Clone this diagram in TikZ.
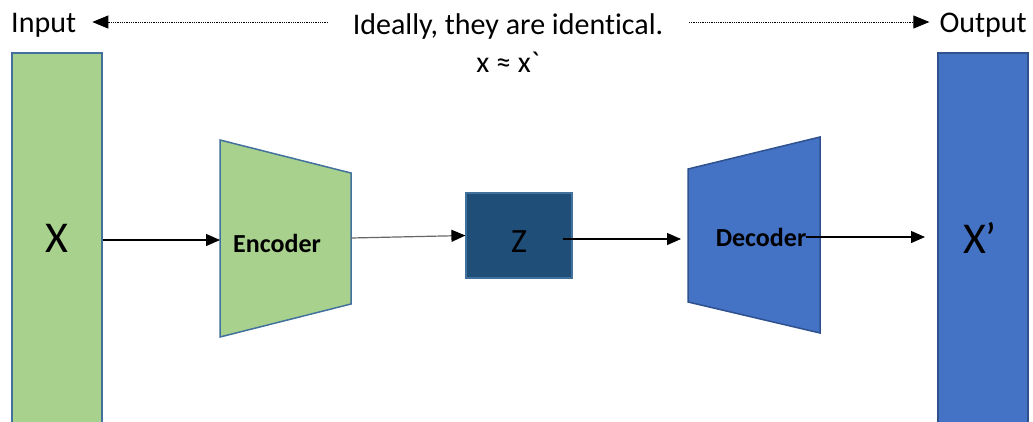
\documentclass[tikz,border=0pt]{standalone}
\usepackage{fontspec}
\setmainfont{Carlito}[Ligatures={TeXOff,NoCommon}]
\usetikzlibrary{arrows.meta}
\definecolor{lgreen}{HTML}{A9D18E}
\definecolor{obord}{HTML}{41719C}
\definecolor{mblue}{HTML}{4472C4}
\definecolor{dblue}{HTML}{1F4E79}
\definecolor{bbord}{HTML}{2F528F}
\tikzset{
  bar/.style={draw=#1, line width=1.5pt, minimum width=90pt, minimum height=372pt, anchor=north west, inner sep=0pt},
  shapeline/.style={line width=1.5pt, line join=miter},
  flow/.style={line width=1.2pt, -{Triangle[length=14pt,width=12pt,color=black]}},
  dotarrow/.style={line width=0.8pt, densely dotted, -{Triangle[length=16pt,width=13pt]}},
  toptext/.style={font=\fontsize{30}{36}\selectfont, inner sep=0pt},
  boldlbl/.style={font=\fontsize{26}{30}\selectfont\bfseries, inner sep=0pt},
  biglbl/.style={font=\fontsize{44}{50}\selectfont, inner sep=0pt}
}
\begin{document}
\begin{tikzpicture}[x=1pt,y=-1pt]
\clip (0,0) rectangle (1033,421);
\fill[white] (0,0) rectangle (1033,421);

% side bars
\node[bar=obord, fill=lgreen] (in) at (11,52) {};
\node[bar=bbord, fill=mblue] (out) at (937,52) {};
\node[biglbl] (xlbl) at (57,238) {X};
\node[biglbl] (xplbl) at (980,238) {X’};

% top texts
\node[toptext, anchor=base west] (inputlbl) at (11,32) {Input};
\node[toptext, anchor=base east] (outputlbl) at (1027,32) {Output};
\node[toptext, anchor=base] (ideal1) at (508,34) {Ideally, they are identical.};
\node[toptext, anchor=base] (ideal2) at (508,72) {x ≈ x`};

% encoder
\coordinate (e1) at (220,140);
\coordinate (e2) at (351,173);
\coordinate (e3) at (351,304);
\coordinate (e4) at (220,337);
\filldraw[shapeline, fill=lgreen, draw=obord] (e1) -- (e2) -- (e3) -- (e4) -- cycle;
\coordinate (encin) at (220,240);
\coordinate (encout) at (351,238);
\node[boldlbl] (enc) at (277,243) {Encoder};

% latent
\node[draw=obord, line width=1.2pt, fill=dblue, minimum width=106pt, minimum height=85pt, inner sep=0pt] (z) at (519,235.5) {};
\node[font=\fontsize{34}{38}\selectfont, inner sep=0pt] (zlbl) at (519,242) {Z};
\coordinate (zout) at (563,239);

% decoder
\coordinate (d1) at (688,169);
\coordinate (d2) at (820,137);
\coordinate (d3) at (820,333);
\coordinate (d4) at (688,302);
\filldraw[shapeline, fill=mblue, draw=bbord] (d1) -- (d2) -- (d3) -- (d4) -- cycle;
\coordinate (decin) at (681,239);
\node[boldlbl] (dec) at (761,237) {Decoder};
\coordinate (outin) at (925,237);

% connectors
\draw[flow] (in.east |- encin) -- (encin);
\draw[flow, draw=black!60] (encout) -- (z.west);
\draw[flow] (zout) -- (decin);
\draw[flow] (dec.east) -- (outin);

% dotted arrows
\coordinate (dl) at (328,22);
\coordinate (dr) at (689,22);
\draw[dotarrow] (dl) -- ([xshift=16pt]inputlbl.east |- dl);
\draw[dotarrow] (dr) -- ([xshift=-10pt]outputlbl.west |- dr);
\end{tikzpicture}
\end{document}
